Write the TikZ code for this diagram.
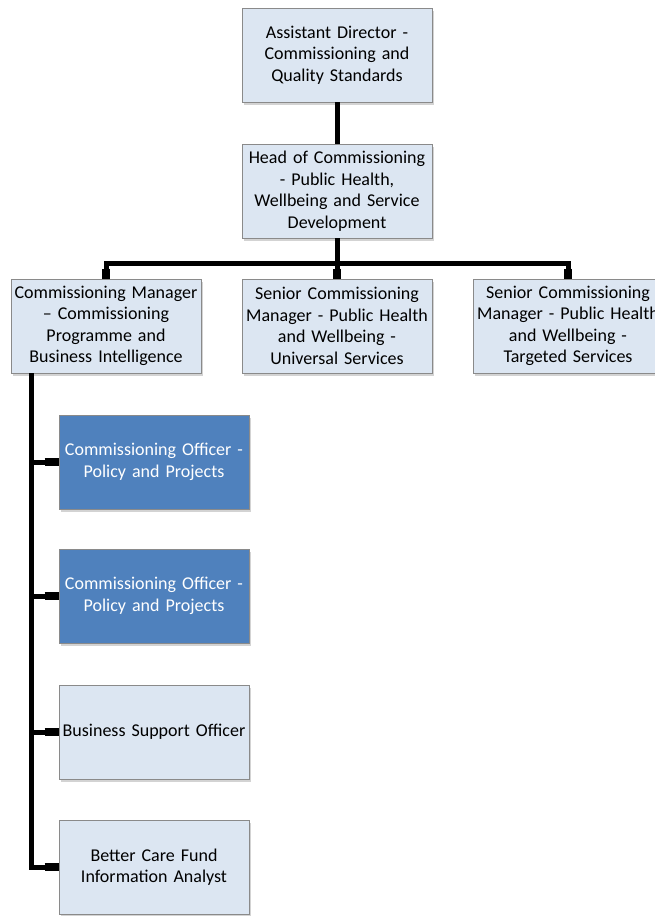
\documentclass[tikz,border=0pt]{standalone}
\usepackage{fontspec}
\setmainfont{Carlito}
\usetikzlibrary{positioning,shadows}

\definecolor{paleblue}{HTML}{DCE6F2}
\definecolor{deepblue}{HTML}{4F81BD}
\definecolor{edgegray}{HTML}{8A8A8A}

\tikzset{
  post/.style={rectangle, draw=edgegray, line width=0.8pt, fill=paleblue,
    minimum width=190pt, minimum height=94pt, text width=186pt, inner sep=0pt,
    align=center, font=\fontsize{18}{21.5}\selectfont,
    drop shadow={shadow xshift=2pt, shadow yshift=-3pt, opacity=0.35}},
  officer/.style={post, fill=deepblue, text=white},
  link/.style={line width=5pt},
  stub/.style={line width=8pt},
}

\begin{document}
\begin{tikzpicture}[x=1pt, y=-1pt]
  \clip (0,0) rectangle (655,916);
  \useasboundingbox (0,0) rectangle (655,916);

  % top of the chart
  \node[post] (ad)   at (337,55)  {Assistant Director -\\Commissioning and\\Quality Standards};
  \node[post] (head) at (337,191) {Head of Commissioning\\- Public Health,\\Wellbeing and Service\\Development};

  % managers
  \node[post] (cm)   at (106,326) {Commissioning Manager\\-- Commissioning\\Programme and\\Business Intelligence};
  \node[post] (scmu) at (337,326) {Senior Commissioning\\Manager - Public Health\\and Wellbeing -\\Universal Services};
  \node[post] (scmt) at (568,326) {Senior Commissioning\\Manager - Public Health\\and Wellbeing -\\Targeted Services};

  % officers under cm
  \node[officer] (cop1) at (154,462) {Commissioning Officer -\\Policy and Projects};
  \node[officer] (cop2) at (154,596) {Commissioning Officer -\\Policy and Projects};
  \node[post]    (bso)  at (154,732) {Business Support Officer};
  \node[post]    (bcf)  at (154,867) {Better Care Fund\\Information Analyst};

  \coordinate (bar)   at ([yshift=-25pt]head.south);
  \coordinate (trunk) at ([xshift=21pt]cm.south west);

  \draw[link] (ad.south) -- (head.north);
  \draw[link] (head.south) -- (bar);
  \draw[link] (cm.north) |- (bar) -| (scmt.north);
  \draw[link] (bar) -- (scmu.north);
  \foreach \n in {cm,scmu,scmt}
    \draw[stub] ([yshift=10pt]\n.north) -- (\n.north);

  \draw[link] (trunk) |- (bcf.west);
  \foreach \n in {cop1,cop2,bso}
    \draw[link] (trunk |- \n.west) -- (\n.west);
  \foreach \n in {cop1,cop2,bso,bcf}
    \draw[stub] ([xshift=-14pt]\n.west) -- (\n.west);
\end{tikzpicture}
\end{document}
